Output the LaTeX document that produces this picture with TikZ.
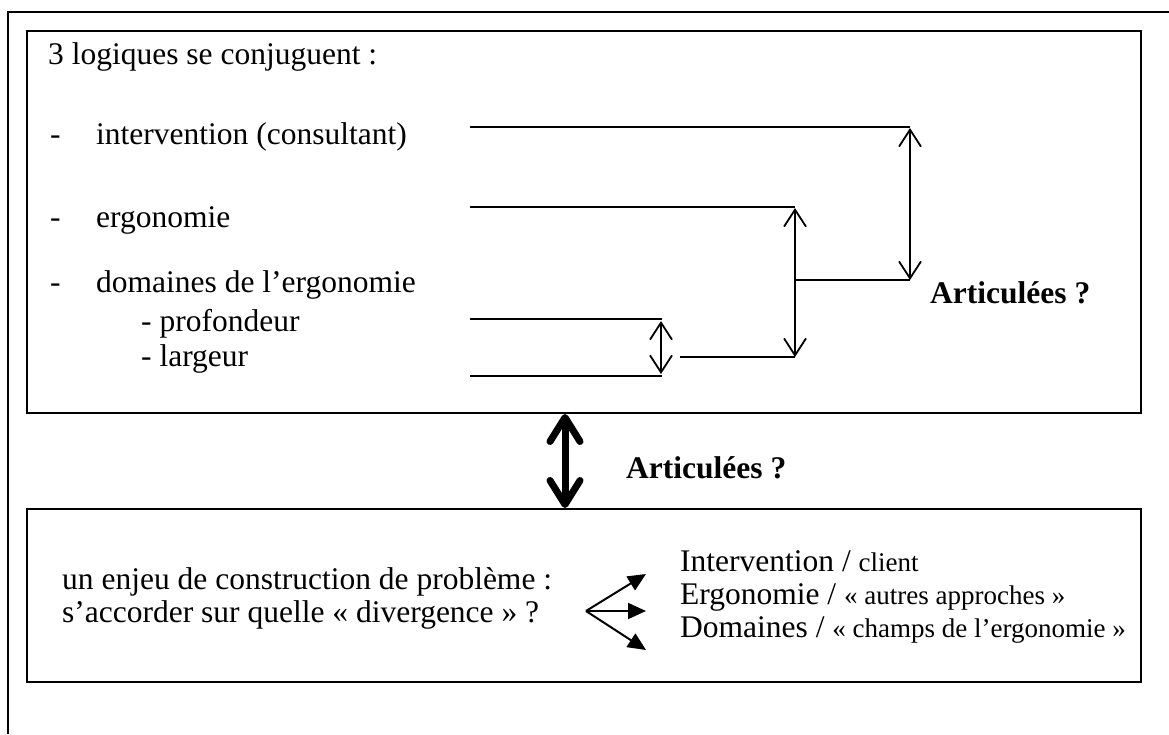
\documentclass[tikz,border=0pt]{standalone}
\usepackage{fontspec}
\setmainfont{Liberation Serif}
\usetikzlibrary{arrows.meta}
\newcommand\smallfs{\fontsize{27}{30}\selectfont}
\begin{document}
\begin{tikzpicture}[x=1pt,y=-1pt,
  txt/.style={anchor=base west,inner sep=0pt,font=\fontsize{31.5}{35}\selectfont},
  frame/.style={line width=2pt},
  link/.style={line width=1.8pt},
  dbl/.style={line width=1.8pt,{Straight Barb[length=17pt,width=22pt,line width=1.8pt]}-{Straight Barb[length=17pt,width=22pt,line width=1.8pt]}},
  fat/.style={line width=7pt,{Straight Barb[round,length=24pt,width=30pt,line width=7pt]}-{Straight Barb[round,length=24pt,width=30pt,line width=7pt]}},
  fan/.style={line width=2pt,-{Triangle[length=18pt,width=16pt]}}]
\useasboundingbox (0,0) rectangle (1169,734);
% outer frame
\draw[frame] (1169,12)--(8,12)--(8,734);
% boxes
\draw[frame] (27,31) rectangle (1141,413);
\draw[frame] (27,509) rectangle (1141,682);
% top box text
\node[txt] (title) at (48,64) {3 logiques se conjuguent~:};
\node[txt] (d1) at (50,144) {-};
\node[txt] (t1) at (96,144) {intervention (consultant)};
\node[txt] (d2) at (50,227) {-};
\node[txt] (t2) at (96,227) {ergonomie};
\node[txt] (d3) at (50,292) {-};
\node[txt] (t3) at (96,292) {domaines de l’ergonomie};
\node[txt] (t4) at (141,331) {- profondeur};
\node[txt] (t5) at (141,366) {- largeur};
% lines
\coordinate (a1) at (470,127); \coordinate (b1) at (910,127);
\coordinate (a2) at (470,207); \coordinate (b2) at (795,207);
\coordinate (a3) at (470,319); \coordinate (b3) at (662,319);
\coordinate (a4) at (470,376); \coordinate (b4) at (662,376);
\draw[link] (a1)--(b1);
\draw[link] (a2)--(b2);
\draw[link] (a3)--(b3);
\draw[link] (a4)--(b4);
\coordinate (s1) at (661,321); \coordinate (s2) at (661,374);
\draw[dbl] (s1)--(s2);
\coordinate (m1) at (680,357); \coordinate (m2) at (795,357);
\draw[link] (m1)--(m2);
\coordinate (u1) at (795,208);
\draw[dbl] (u1)--(m2);
\coordinate (n1) at (795,280); \coordinate (n2) at (910,280);
\draw[link] (n1)--(n2);
\coordinate (v1) at (910,128);
\draw[dbl] (v1)--(n2);
\node[txt,font=\fontsize{31.5}{35}\selectfont\bfseries] (art1) at (930,303) {Articulées ?};
% between boxes
\coordinate (f1) at (565,414); \coordinate (f2) at (565,508);
\draw[fat] (f1)--(f2);
\node[txt,font=\fontsize{31.5}{35}\selectfont\bfseries] (art2) at (626,478) {Articulées ?};
% bottom box
\node[txt] (e1) at (62,589) {un enjeu de construction de problème :};
\node[txt] (e2) at (62,622) {s’accorder sur quelle « divergence » ?};
\coordinate (o) at (586,611);
\coordinate (p1) at (646,574); \coordinate (p2) at (646,611); \coordinate (p3) at (646,650);
\draw[fan] (o)--(p1);
\draw[fan] (o)--(p2);
\draw[fan] (o)--(p3);
\node[txt] (r1) at (680,571) {Intervention / {\smallfs client}};
\node[txt] (r2) at (680,604) {Ergonomie / {\smallfs « autres approches »}};
\node[txt] (r3) at (680,637) {Domaines / {\smallfs « champs de l’ergonomie »}};
\end{tikzpicture}
\end{document}
